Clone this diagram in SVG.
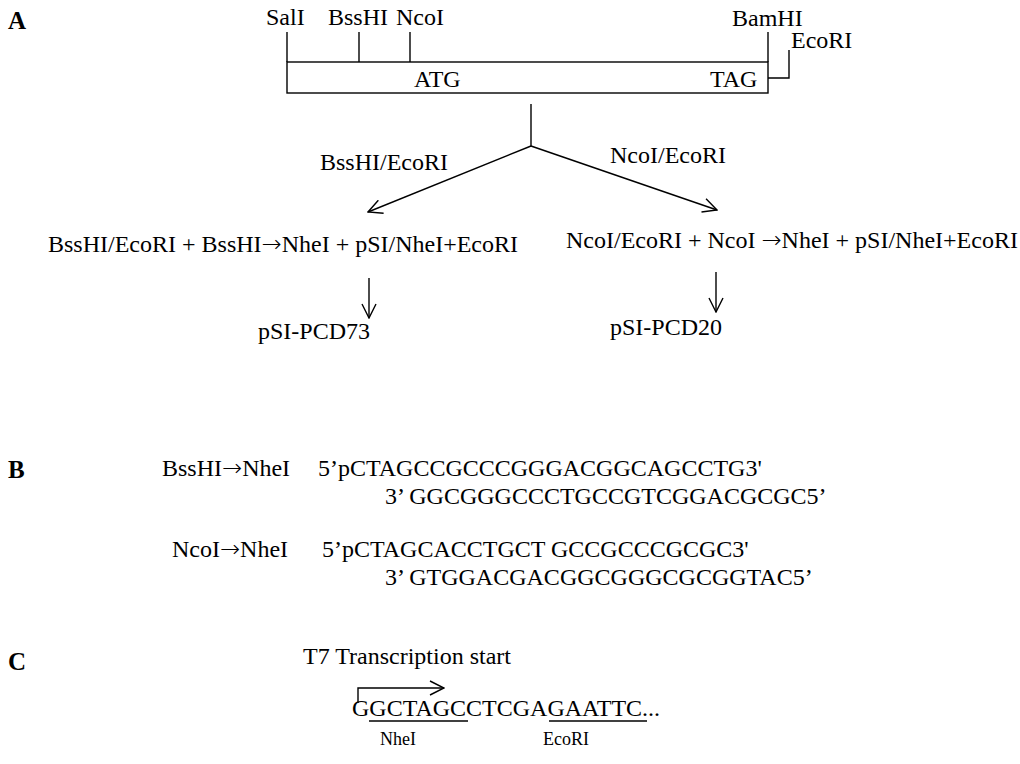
<svg xmlns="http://www.w3.org/2000/svg" width="1020" height="764" viewBox="0 0 1020 764">
<defs>
<marker id="vh" viewBox="0 0 16 16" refX="15" refY="8" markerWidth="16" markerHeight="16" markerUnits="userSpaceOnUse" orient="auto">
<path d="M1,1 L15,8 L1,15" fill="none" stroke="#000" stroke-width="1.4"/>
</marker>
</defs>
<style>
text{font-family:"Liberation Serif","Times New Roman",serif;font-size:24px;fill:#000}
.lbl{font-weight:bold;font-size:25px}
.sm{font-size:18px}
.arw{font-family:"DejaVu Sans",sans-serif;font-size:24px;font-weight:200}
.ln{stroke:#000;stroke-width:1.4;fill:none}
.ar{stroke:#000;stroke-width:1.4;fill:none;marker-end:url(#vh)}
</style>
<rect width="1020" height="764" fill="#fff"/>
<text class="lbl" x="8" y="29">A</text>
<text class="lbl" x="8" y="478">B</text>
<text class="lbl" x="8" y="670">C</text>
<g id="gene">
<rect class="ln" x="287" y="62" width="481" height="31"/>
<line class="ln" x1="287" y1="32" x2="287" y2="62"/>
<line class="ln" x1="359" y1="32" x2="359" y2="62"/>
<line class="ln" x1="410" y1="32" x2="410" y2="62"/>
<line class="ln" x1="768" y1="32" x2="768" y2="62"/>
<polyline class="ln" points="768,78 789,78 789,50"/>
<text x="266" y="25">SalI</text>
<text x="328" y="25">BssHI</text>
<text x="396" y="25">NcoI</text>
<text x="732" y="26">BamHI</text>
<text x="791" y="48">EcoRI</text>
<text x="414" y="87">ATG</text>
<text x="710" y="87">TAG</text>
</g>
<g id="connectors">
<line class="ln" x1="531" y1="104" x2="531" y2="146"/>
<line class="ar" x1="531" y1="146" x2="368" y2="212"/>
<line class="ar" x1="531" y1="146" x2="717" y2="210"/>
<line class="ar" x1="369" y1="278" x2="369" y2="318"/>
<line class="ar" x1="716" y1="272" x2="716" y2="312"/>
</g>
<g id="labels">
<text x="320" y="170">BssHI/EcoRI</text>
<text x="610" y="163">NcoI/EcoRI</text>
</g>
<g id="left">
<text x="48" y="252">BssHI/EcoRI + BssHI<tspan class="arw">→</tspan>NheI + pSI/NheI+EcoRI</text>
<text x="258" y="339">pSI-PCD73</text>
</g>
<g id="right">
<text x="566" y="248">NcoI/EcoRI + NcoI <tspan class="arw">→</tspan>NheI + pSI/NheI+EcoRI</text>
<text x="610" y="335">pSI-PCD20</text>
</g>
<g id="seqB">
<text x="162" y="476">BssHI<tspan class="arw">→</tspan>NheI</text>
<text x="318" y="476">5’pCTAGCCGCCCGGGACGGCAGCCTG3'</text>
<text x="385" y="504">3’ GGCGGGCCCTGCCGTCGGACGCGC5’</text>
<text x="172" y="557">NcoI<tspan class="arw">→</tspan>NheI</text>
<text x="322" y="557">5’pCTAGCACCTGCT GCCGCCCGCGC3'</text>
<text x="385" y="585">3’ GTGGACGACGGCGGGCGCGGTAC5’</text>
</g>
<g id="seqC">
<text x="303" y="664">T7 Transcription start</text>
<polyline class="ar" points="358,703 358,688 444,688"/>
<text x="352" y="716">GGCTAGCCTCGAGAATTC...</text>
<line class="ln" x1="369" y1="721" x2="468" y2="721"/>
<line class="ln" x1="549" y1="721" x2="647" y2="721"/>
<text class="sm" x="380" y="745">NheI</text>
<text class="sm" x="543" y="745">EcoRI</text>
</g>
</svg>
